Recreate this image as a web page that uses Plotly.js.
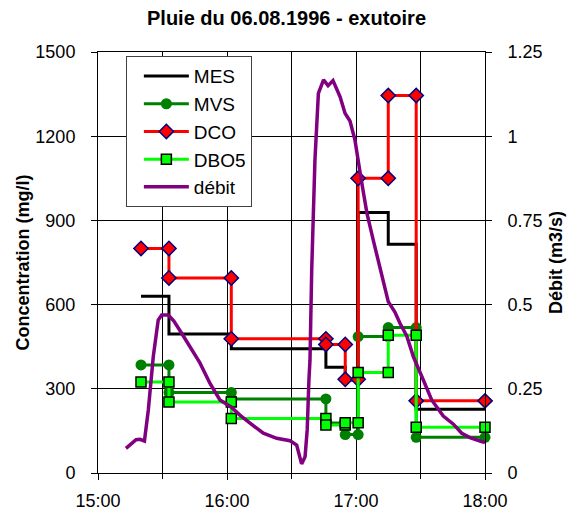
<!DOCTYPE html>
<html>
<head>
<meta charset="utf-8">
<script src="https://cdn.plot.ly/plotly-3.0.1.min.js"></script>
<style>html,body{margin:0;padding:0;background:#fff;}#chart{width:573px;height:514px;}</style>
</head>
<body>
<div id="chart"></div>
<script>
// Sampling intervals (start/end of each composite sample), Pluie du 06.08.1996
const sampleTimes = ['15:20','15:33','15:33','16:02','16:02','16:46','16:46','16:55','16:55','17:01','17:01','17:15','17:15','17:28','17:28','18:00'];
const mes  = [630,630,495,495,443,443,377,377,331,331,928,928,815,815,227,227];
const mvs  = [385,385,287,287,264,264,178,178,137,137,486,486,518,518,127,127];
const dco  = [800,800,695,695,478,478,458,458,334,334,1050,1050,1345,1345,257,257];
const dbo5 = [324,324,253,253,194,194,171,171,179,179,358,358,491,491,163,163];

// Flow (m3/s)
const debitTimes = ['15:13:00','15:17:42','15:19:30','15:21:36','15:23:24','15:25:42','15:28:00','15:29:36','15:32:42','15:35:18',
  '15:38:54','15:42:48','15:47:24','15:52:06','15:56:42','16:01:54','16:06:00','16:10:42','16:16:54','16:23:06',
  '16:29:18','16:32:24','16:34:42','16:36:18','16:37:18','16:38:06','16:38:36','16:39:24','16:40:06','16:40:54',
  '16:42:30','16:44:54','16:47:00','16:49:18','16:52:36','16:54:54','16:57:12','16:59:30','17:02:18','17:05:06',
  '17:08:00','17:11:12','17:12:42','17:15:00','17:18:06','17:20:30','17:23:36','17:26:42','17:31:18','17:35:12',
  '17:40:36','17:45:18','17:49:12','17:53:00','17:57:42','18:00:00'];
const debit = [0.073,0.099,0.100,0.095,0.187,0.345,0.454,0.469,0.469,0.451,
  0.415,0.375,0.327,0.266,0.217,0.196,0.172,0.148,0.118,0.103,
  0.096,0.083,0.027,0.048,0.128,0.276,0.335,0.603,0.731,0.929,
  1.127,1.167,1.150,1.165,1.117,1.068,1.045,0.989,0.876,0.771,
  0.692,0.612,0.573,0.509,0.478,0.444,0.407,0.345,0.276,0.217,
  0.169,0.145,0.118,0.105,0.095,0.090];

const yTicks = [0,300,600,900,1200,1500];
const y2Ticks = [0,0.25,0.5,0.75,1,1.25];

const day = '1996-08-06 ';
const toDate = t => day + t;

const FONT = 'Liberation Sans, Arial, sans-serif';

const traces = [
  {name:'MES', x: sampleTimes.map(toDate), y: mes, mode:'lines', cliponaxis:false,
   line:{color:'#000000', width:3}},
  {name:'MVS', x: sampleTimes.map(toDate), y: mvs, mode:'lines+markers', cliponaxis:false,
   line:{color:'#008000', width:3}, marker:{symbol:'circle', size:11, color:'#008000'}},
  {name:'DCO', x: sampleTimes.map(toDate), y: dco, mode:'lines+markers', cliponaxis:false,
   line:{color:'#ff0000', width:3}, marker:{symbol:'diamond', size:11, color:'#ff0000', line:{color:'#000080', width:1.5}}},
  {name:'DBO5', x: sampleTimes.map(toDate), y: dbo5, mode:'lines+markers', cliponaxis:false,
   line:{color:'#00ff00', width:3}, marker:{symbol:'square', size:10, color:'#00ff00', line:{color:'#000000', width:1.5}}},
  {name:'débit', x: debitTimes.map(toDate), y: debit, yaxis:'y2', mode:'lines',
   line:{color:'#800080', width:3.5}}
];

const layout = {
  width:573, height:514,
  margin:{l:98, r:88, t:52, b:41},
  paper_bgcolor:'#fff', plot_bgcolor:'#fff',
  font:{family:FONT, size:18, color:'#000'},
  title:{text:'<b>Pluie du 06.08.1996 - exutoire</b>', font:{family:FONT, size:20, color:'#000'},
         x:0.5, xref:'container', xanchor:'center', y:0.965, yref:'container', yanchor:'middle'},
  showlegend:true,
  legend:{x:0.072, y:0.99, xanchor:'left', yanchor:'top', bgcolor:'#fff',
          bordercolor:'#404040', borderwidth:1, font:{family:FONT, size:19, color:'#000'},
          itemwidth:45, tracegroupgap:0, indentation:12},
  xaxis:{type:'date', range:[toDate('15:00'), toDate('18:00')], tickformat:'%H:%M',
         tick0:toDate('15:00'), dtick:3600000, showgrid:true, gridcolor:'#000', gridwidth:1,
         minor:{dtick:1800000, showgrid:true, gridcolor:'#000', gridwidth:1, ticks:'outside', ticklen:5, tickcolor:'#000'},
         ticks:'outside', ticklen:6, tickcolor:'#000', showline:true, linecolor:'#000', linewidth:1, mirror:true,
         ticklabelstandoff:5, tickfont:{family:FONT, size:18}, zeroline:false},
  yaxis:{range:[0,1500], tickvals:yTicks, ticktext:yTicks.map(String), showgrid:true, gridcolor:'#000', gridwidth:1,
         ticks:'outside', ticklen:6, tickcolor:'#000', showline:true, linecolor:'#000', linewidth:1,
         zeroline:false, ticklabelstandoff:12, tickfont:{family:FONT, size:18},
         title:{text:'<b>Concentration (mg/l)</b>', font:{family:FONT, size:18}, standoff:1}},
  yaxis2:{range:[0,1.25], overlaying:'y', side:'right', tickvals:y2Ticks, ticktext:y2Ticks.map(String),
          showgrid:false, ticks:'outside', ticklen:6, tickcolor:'#000', showline:true, linecolor:'#000', linewidth:1,
          zeroline:false, ticklabelstandoff:12, tickfont:{family:FONT, size:18},
          title:{text:'<b>Débit (m3/s)</b>', font:{family:FONT, size:18}, standoff:7}}
};

Plotly.newPlot('chart', traces, layout, {displayModeBar:false, staticPlot:true});
</script>
</body>
</html>
